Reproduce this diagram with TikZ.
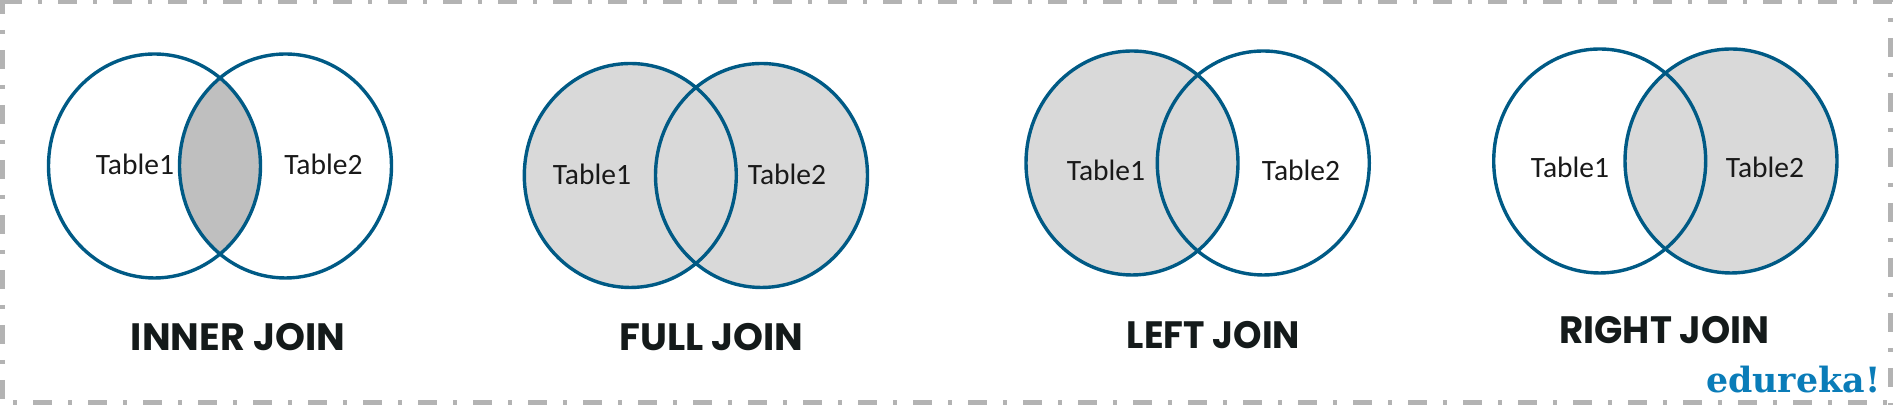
\documentclass[tikz,border=0pt]{standalone}
\usepackage{fontspec}
\setmainfont{Carlito}
\newfontfamily\titlefont{Poppins}[UprightFont=* Bold]
\newfontfamily\brandfont{DejaVu Serif}[UprightFont=* Bold]
\definecolor{ringblue}{HTML}{005A85}
\definecolor{lightfill}{HTML}{D9D9D9}
\definecolor{darkfill}{HTML}{BFBFBF}
\definecolor{titleink}{HTML}{141A1A}
\definecolor{brandblue}{HTML}{0A7CB8}
\definecolor{framegray}{HTML}{B3B3B3}
\newcommand{\rayonx}{1.06}
\newcommand{\rayony}{1.12}

\tikzset{
  ring/.style={draw=ringblue,line width=0.034cm},
  tablelabel/.style={anchor=base,inner sep=0pt,text=black!90,font=\fontsize{8.4pt}{10pt}\selectfont},
  jointitle/.style={anchor=base,inner sep=0pt,text=titleink,font=\titlefont\fontsize{10.85pt}{13pt}\selectfont},
  framedash/.style={draw=framegray,line width=0.045cm},
}

\begin{document}
\begin{tikzpicture}
  \useasboundingbox (0,0) rectangle (18.93,4.05);
  % dashed frame
  \coordinate (tl) at (0,4.03);
  \coordinate (tr) at (18.93,4.03);
  \coordinate (bl) at (0,0.025);
  \coordinate (br) at (18.93,0.025);
  \coordinate (lt) at (0.025,4.05);
  \coordinate (lb) at (0.025,0);
  \coordinate (rt) at (18.905,4.05);
  \coordinate (rb) at (18.905,0);
  \draw[framedash,dash pattern=on 0.19cm off 0.16cm on 0.04cm off 0.16cm,dash phase=0.52cm] (tl) -- (tr);
  \draw[framedash,dash pattern=on 0.19cm off 0.16cm on 0.04cm off 0.16cm,dash phase=0.22cm] (bl) -- (br);
  \draw[framedash,dash pattern=on 0.19cm off 0.16cm on 0.04cm off 0.16cm,dash phase=0.05cm] (lt) -- (lb);
  \draw[framedash,dash pattern=on 0.19cm off 0.16cm on 0.04cm off 0.16cm,dash phase=0.17cm] (rt) -- (rb);

  % inner join
  \coordinate (innera) at (1.545,2.39);
  \coordinate (innerb) at (2.855,2.39);
  \begin{scope}
    \clip (innera) ellipse ({\rayonx} and {\rayony});
    \fill[darkfill] (innerb) ellipse ({\rayonx} and {\rayony});
  \end{scope}
  \draw[ring] (innera) ellipse ({\rayonx} and {\rayony});
  \draw[ring] (innerb) ellipse ({\rayonx} and {\rayony});
  \node[tablelabel] (innerlabela) at (1.35,2.30) {Table1};
  \node[tablelabel] (innerlabelb) at (3.235,2.30) {Table2};
  \node[jointitle] (innertitle) at (2.38,0.54) {INNER JOIN};

  % full join
  \coordinate (fulla) at (6.303,2.295);
  \coordinate (fullb) at (7.615,2.295);
  \fill[lightfill] (fulla) ellipse ({\rayonx} and {\rayony});
  \fill[lightfill] (fullb) ellipse ({\rayonx} and {\rayony});
  \draw[ring] (fulla) ellipse ({\rayonx} and {\rayony});
  \draw[ring] (fullb) ellipse ({\rayonx} and {\rayony});
  \node[tablelabel] (fulllabela) at (5.92,2.20) {Table1};
  \node[tablelabel] (fulllabelb) at (7.87,2.20) {Table2};
  \node[jointitle] (fulltitle) at (7.115,0.547) {FULL JOIN};

  % left join
  \coordinate (lefta) at (11.32,2.42);
  \coordinate (leftb) at (12.633,2.42);
  \fill[lightfill] (lefta) ellipse ({\rayonx} and {\rayony});
  \draw[ring] (lefta) ellipse ({\rayonx} and {\rayony});
  \draw[ring] (leftb) ellipse ({\rayonx} and {\rayony});
  \node[tablelabel] (leftlabela) at (11.06,2.243) {Table1};
  \node[tablelabel] (leftlabelb) at (13.01,2.243) {Table2};
  \node[jointitle,xscale=0.95] (lefttitle) at (12.135,0.56) {LEFT JOIN};

  % right join
  \coordinate (righta) at (15.997,2.44);
  \coordinate (rightb) at (17.31,2.44);
  \fill[lightfill] (rightb) ellipse ({\rayonx} and {\rayony});
  \draw[ring] (righta) ellipse ({\rayonx} and {\rayony});
  \draw[ring] (rightb) ellipse ({\rayonx} and {\rayony});
  \node[tablelabel] (rightlabela) at (15.70,2.27) {Table1};
  \node[tablelabel] (rightlabelb) at (17.65,2.27) {Table2};
  \node[jointitle,xscale=0.975] (righttitle) at (16.645,0.61) {RIGHT JOIN};

  \node[anchor=base east,inner sep=0pt,text=brandblue,font=\brandfont\fontsize{9.9pt}{12pt}\selectfont] (brand) at (18.81,0.12) {edureka!};
\end{tikzpicture}
\end{document}
